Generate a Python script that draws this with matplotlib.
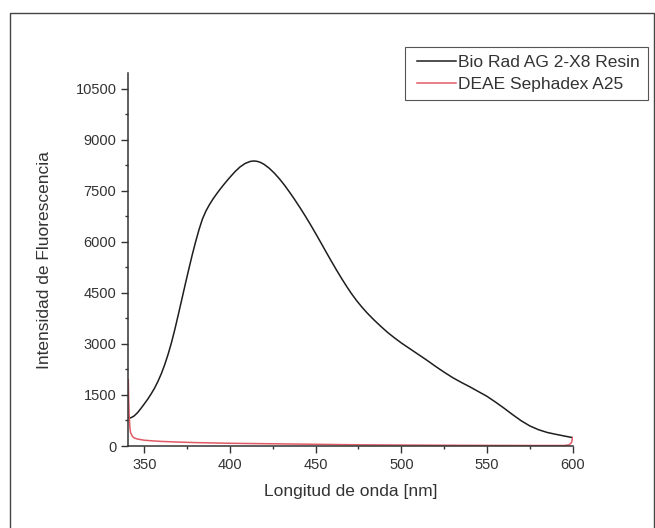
import matplotlib
matplotlib.use("Agg")
import matplotlib.pyplot as plt
import numpy as np
from matplotlib.patches import Rectangle
from matplotlib.ticker import MultipleLocator
from matplotlib.legend_handler import HandlerLine2D

plt.rcParams['font.family'] = ['Liberation Sans', 'DejaVu Sans']

# Bio Rad AG 2-X8 Resin (black)
wl_black = [340.7, 342, 344, 346, 348, 350, 352, 354, 356, 358, 360, 362, 364, 366, 368,
            370, 372, 374, 376, 378, 380, 382, 384, 386, 388, 390, 392, 394, 396, 398,
            400, 403, 406, 409, 412, 414, 416, 418, 420, 423, 426, 429, 432, 435, 438,
            441, 444, 447, 450, 453, 456, 459, 462, 465, 468, 471, 474, 477, 480, 484,
            488, 492, 496, 500, 505, 510, 515, 520, 525, 530, 535, 540, 545, 550, 555,
            560, 565, 570, 575, 580, 585, 590, 595, 600]
int_black = [844, 825, 880, 975, 1100, 1235, 1375, 1530, 1700, 1900, 2130, 2400, 2710, 3060, 3460,
             3890, 4330, 4770, 5200, 5620, 6010, 6370, 6680, 6910, 7094, 7254, 7398, 7534, 7662, 7784,
             7902, 8070, 8211, 8313, 8370, 8382, 8370, 8335, 8280, 8165, 8020, 7850, 7660, 7450, 7230,
             7000, 6760, 6510, 6250, 5985, 5715, 5450, 5190, 4940, 4700, 4475, 4270, 4085, 3915, 3710,
             3520, 3340, 3180, 3030, 2860, 2690, 2520, 2340, 2170, 2010, 1870, 1740, 1600, 1460, 1290,
             1110, 920, 740, 590, 480, 400, 345, 295, 245]

# DEAE Sephadex A25 (red)
wl_red = [340.7, 340.9, 341.2, 341.6, 342, 343, 344, 346, 350, 355, 360, 370, 380, 400,
          425, 450, 475, 500, 525, 550, 575, 595, 598, 599.3, 600]
int_red = [1950, 1400, 900, 560, 400, 290, 240, 205, 170, 150, 135, 115, 100, 80,
           65, 50, 35, 28, 22, 18, 15, 15, 35, 100, 250]

labels = ["Bio Rad AG 2-X8 Resin", "DEAE Sephadex A25"]
xticks = [350, 400, 450, 500, 550, 600]
yticks = [0, 1500, 3000, 4500, 6000, 7500, 9000, 10500]


class PadHandler(HandlerLine2D):
    """Leaves a small gap between the legend border and the sample line."""
    def create_artists(self, legend, orig_handle, xdescent, ydescent, width, height,
                       fontsize, trans):
        arts = super().create_artists(legend, orig_handle, xdescent, ydescent, width,
                                      height, fontsize, trans)
        for a in arts:
            xd = np.asarray(a.get_xdata(), dtype=float)
            if len(xd) >= 2:
                a.set_xdata(np.linspace(xd[0] + 3.0, xd[-1], len(xd)))
        return arts


W, H = 655, 528
fig = plt.figure(figsize=(W / 100, H / 100), dpi=100)
ax = fig.add_axes([128.3 / W, (H - 446) / H, (572.7 - 128.3) / W, (446 - 73.3) / H])

l1, = ax.plot(wl_black, int_black, color='#1e1e1e', lw=1.1, label=labels[0])
l2, = ax.plot(wl_red, int_red, color='#e05a66', lw=1.1, label=labels[1])

ax.set_xlim(340.7, 600)
ax.set_ylim(0, 10960)
ax.set_xticks(xticks)
ax.set_yticks(yticks)
ax.xaxis.set_minor_locator(MultipleLocator(25))
ax.yaxis.set_minor_locator(MultipleLocator(750))

for s in ['top', 'right']:
    ax.spines[s].set_visible(False)
for s in ['left', 'bottom']:
    ax.spines[s].set_color('#333333')
    ax.spines[s].set_linewidth(1.1)

ax.tick_params(which='major', direction='out', length=5, width=1.0, color='#333333',
               labelsize=10.5, labelcolor='#333333', pad=3.5)
ax.tick_params(which='minor', direction='out', length=2.5, width=1.0, color='#333333')

ax.set_xlabel("Longitud de onda [nm]", fontsize=12.5, color='#333333', labelpad=9)
ax.set_ylabel("Intensidad de Fluorescencia", fontsize=12.5, color='#333333', labelpad=17)

leg = ax.legend(handles=[l1, l2], loc='upper left', bbox_to_anchor=(405 / W, 1 - 46.7 / H),
                bbox_transform=fig.transFigure, borderaxespad=0, fancybox=False,
                edgecolor='#555555', fontsize=12.5, handlelength=2.45, handletextpad=0.15,
                labelspacing=0.38, borderpad=0.47, framealpha=1,
                handler_map={l1: PadHandler(), l2: PadHandler()})
leg.get_frame().set_linewidth(0.8)
for t in leg.get_texts():
    t.set_color('#333333')

fig.add_artist(Rectangle((10 / W, -0.05), (654 - 10) / W, (H - 13) / H + 0.05,
                         transform=fig.transFigure, fill=False, ec='#444444', lw=1.0))

fig.savefig("out.png", dpi=100)
